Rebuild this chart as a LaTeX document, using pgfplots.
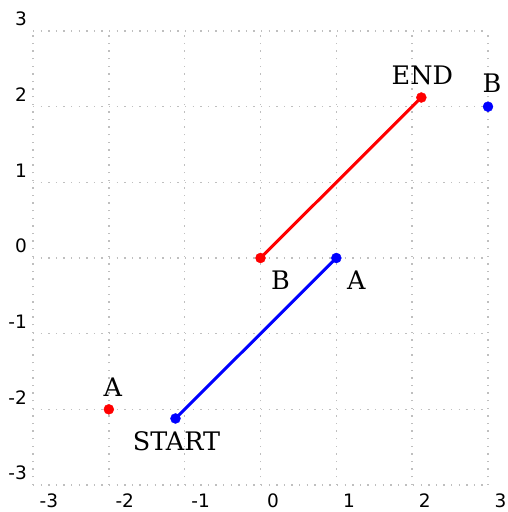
\documentclass[border=0pt]{standalone}
\usepackage{pgfplots}
\pgfplotsset{compat=1.18}
\usepackage{fontspec}
\setmainfont{DejaVu Sans}
\newfontfamily\labfont{DejaVu Serif}
\begin{document}
\begin{tikzpicture}
\begin{axis}[
 scale only axis, width=455pt, height=454pt,
 xmin=-3,xmax=3,ymin=-3,ymax=3,
 xtick={-3,...,3}, ytick={-3,...,3},
 axis line style={draw=none},
 major tick length=0pt,
 grid=major,
 grid style={draw=black!25, line width=1.4pt, dash pattern=on 1.4pt off 6.2pt},
 ticklabel style={font=\fontsize{18.5}{21}\selectfont},
 /pgf/number format/assume math mode=true,
 xticklabel style={anchor=north west, inner sep=0pt, xshift=6.5pt, yshift=-8.5pt},
 yticklabel style={anchor=south east, inner sep=0pt, xshift=-6pt, yshift=5pt},
 clip=false,
]
\coordinate (sw) at (rel axis cs:0,0);
\coordinate (ne) at (rel axis cs:1,1);
\addplot[red, line width=3pt, mark=*, mark size=5pt, mark options={line width=0.4pt}] coordinates {(0,0) (2.121,2.121)};
\addplot[blue, line width=3pt, mark=*, mark size=5pt, mark options={line width=0.4pt}] coordinates {(-1.121,-2.121) (1,0)};
\addplot[red, only marks, mark=*, mark size=5pt, mark options={line width=0.4pt}] coordinates {(-2,-2)};
\addplot[blue, only marks, mark=*, mark size=5pt, mark options={line width=0.4pt}] coordinates {(3,2)};
\tikzset{lab/.style={font=\labfont\fontsize{25.5}{28}\selectfont, inner sep=0pt, anchor=center}}
\node[lab, xshift=4pt, yshift=22pt] at (axis cs:-2,-2) {A};
\node[lab, xshift=1pt, yshift=-23pt] at (axis cs:-1.121,-2.121) {START};
\node[lab, xshift=20pt, yshift=-22pt] at (axis cs:0,0) {B};
\node[lab, xshift=20pt, yshift=-22pt] at (axis cs:1,0) {A};
\node[lab, xshift=1pt, yshift=22.5pt] at (axis cs:2.121,2.121) {END};
\node[lab, xshift=4pt, yshift=23pt] at (axis cs:3,2) {B};
\end{axis}
\pgfresetboundingbox
\path[use as bounding box] ([xshift=-33pt,yshift=-27pt]sw) rectangle ([xshift=19pt,yshift=31pt]ne);
\end{tikzpicture}
\end{document}
